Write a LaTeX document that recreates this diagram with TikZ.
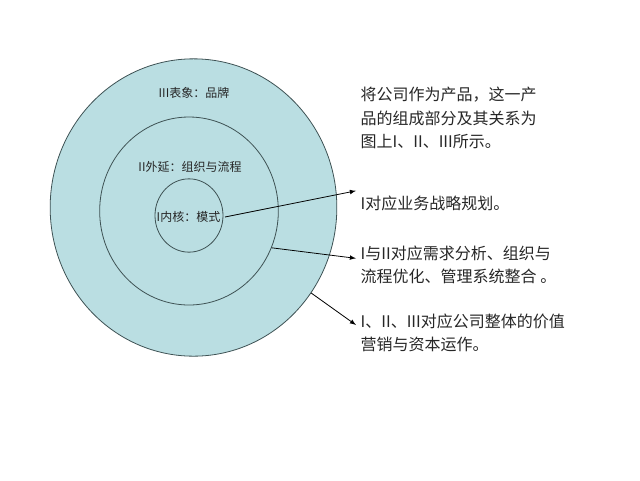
\documentclass[tikz,border=0pt]{standalone}
\usepackage{fontspec}
\newfontfamily\cjk{Noto Sans CJK SC}
\RequirePackage{xcolor}
\definecolor{ringfill}{RGB}{186,222,226}
\definecolor{ringline}{RGB}{62,82,84}
\tikzset{every picture/.style={/utils/exec={\cjk}}}
\usetikzlibrary{positioning}
\usetikzlibrary{shapes.geometric}
\tikzset{ring/.style={ellipse, draw=ringline, fill=ringfill, line width=0.6pt, inner sep=0},
  ringtext/.style={font=\fontsize{9}{11}\selectfont, text=black!85},
  note/.style={anchor=west, align=left, text=black!85, font=\fontsize{12}{17.5}\selectfont}}

\begin{document}
\begin{tikzpicture}[x=0.75pt, y=-0.75pt, >=latex]
  \useasboundingbox (0,0) rectangle (640,480);

    \node [ring, minimum width=215pt, minimum height=223pt] (outer) at (193.5,207.5) {};
    \node [ring, minimum width=134pt, minimum height=141pt] (middle) at (189,211) {};
    \node [ring, minimum width=51pt, minimum height=55pt] (inner) at (189,215.5) {};

    \node [ringtext] (brand) at (194,93) {III表象：品牌};
    \node [ringtext] (flow) at (190,167) {II外延：组织与流程};
    \node [ringtext] (core) at (188.5,217) {I内核：模式};

    \node [note] (intro) at (356,118) {将公司作为产品，这一产\\品的组成部分及其关系为\\图上I、II、III所示。};
    \node [note] (strat) at (356,203) {I对应业务战略规划。};
    \node [note] (opt) at (356,265) {I与II对应需求分析、组织与\\流程优化、管理系统整合 。};
    \node [note] (value) at (356,333) {I、II、III对应公司整体的价值\\营销与资本运作。};

    \draw [->, line width=0.6pt] (core.east) -- (strat.north west);
    \draw [->, line width=0.6pt] (middle.-24) -- ([yshift=5pt]opt.west);
    \draw [->, line width=0.6pt] (outer.-36) -- ([yshift=6pt]value.west);
\end{tikzpicture}
\end{document}
